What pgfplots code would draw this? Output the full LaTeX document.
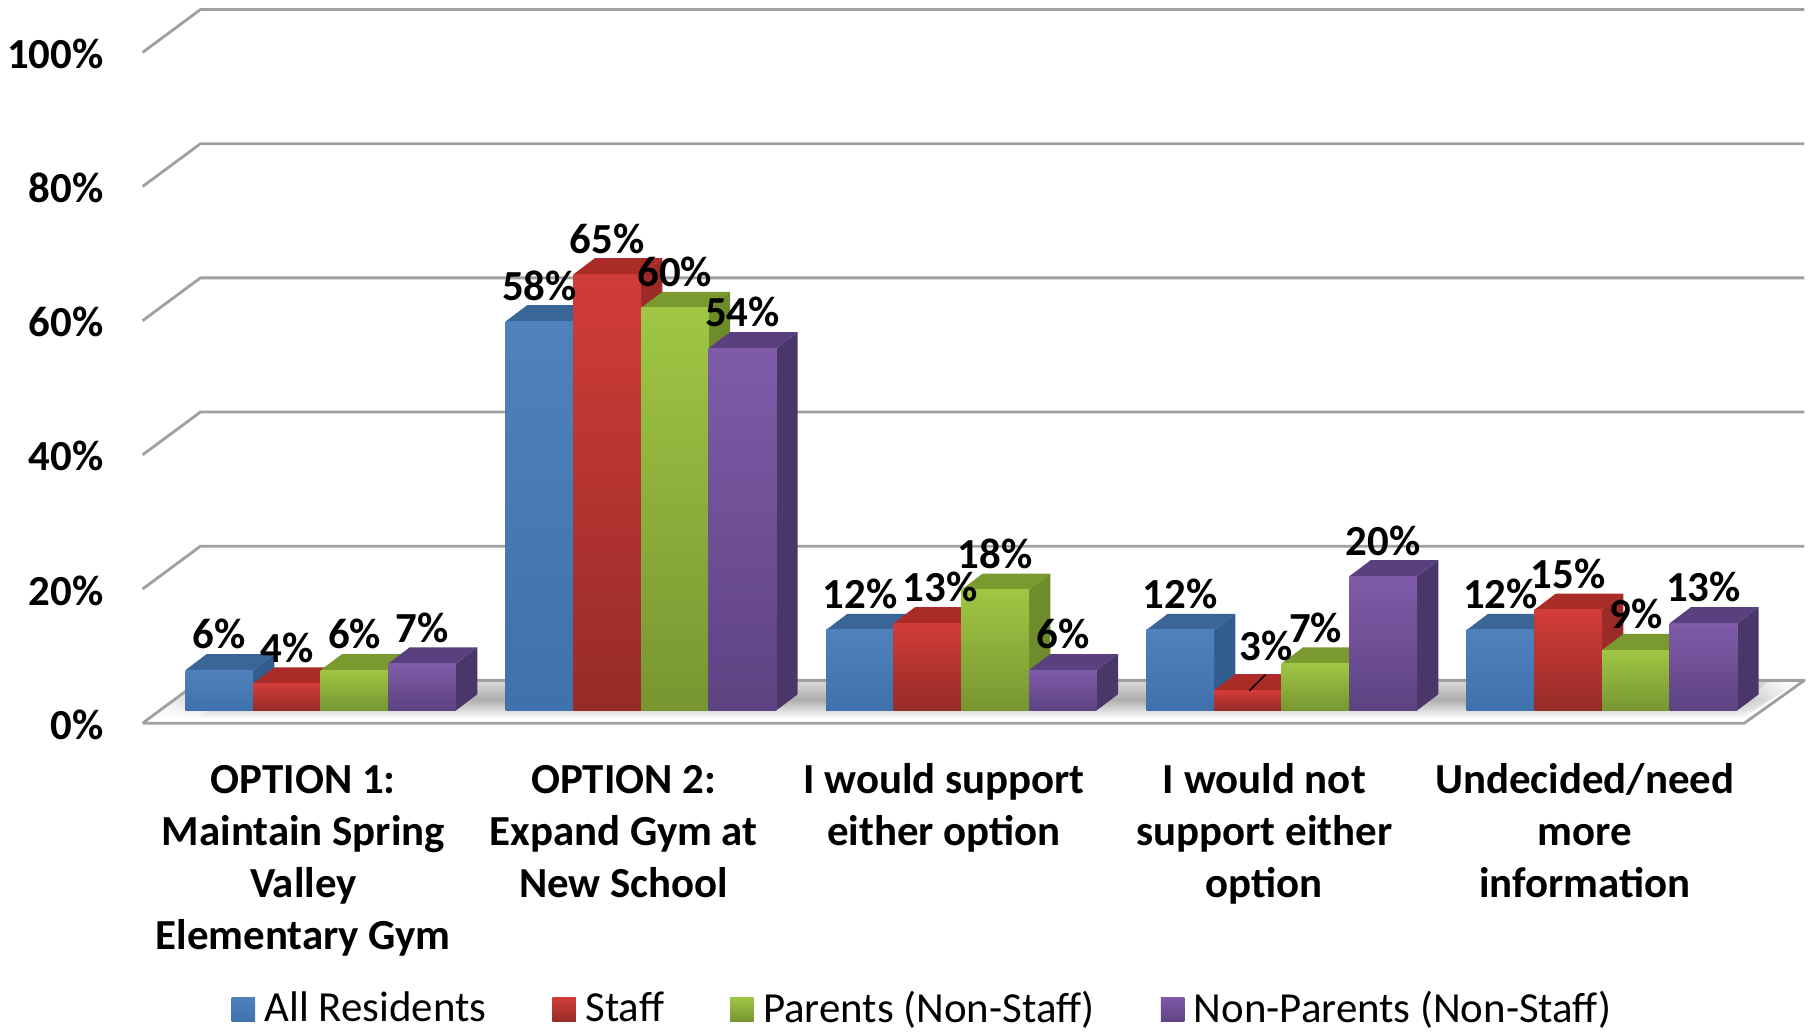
\documentclass[border=0pt]{standalone}
\usepackage{fontspec}
\setmainfont{Carlito}
\usepackage{pgfplots}
\usepackage{pgfplotstable}
\usetikzlibrary{fadings}
\pgfplotsset{compat=1.18}

\definecolor{blueT}{HTML}{4F81BD}\definecolor{blueB}{HTML}{3F72AC}
\definecolor{blueS}{HTML}{325D8E}\definecolor{blueL}{HTML}{3A6597}
\definecolor{redT}{HTML}{D13C39}\definecolor{redB}{HTML}{962B28}
\definecolor{redS}{HTML}{9C2A27}\definecolor{redL}{HTML}{AA2B28}
\definecolor{greenT}{HTML}{9FC644}\definecolor{greenB}{HTML}{779632}
\definecolor{greenS}{HTML}{6F8C2C}\definecolor{greenL}{HTML}{7A9A30}
\definecolor{purpleT}{HTML}{7F5BA8}\definecolor{purpleB}{HTML}{5E4382}
\definecolor{purpleS}{HTML}{4A3668}\definecolor{purpleL}{HTML}{5B4080}
\definecolor{wall}{HTML}{A0A0A0}

% x is the middle of the bar, dx and dy move the label
\pgfplotstableread{
x v dx dy
189.25 6 0 0
466.25 58 0 0
743.25 12 0 0
1020.25 12 0 0
1297.25 12 0 0
}\allresidents
\pgfplotstableread{
x v dx dy
247.75 4 0 0
524.75 65 0 0
801.75 13 11 0
1078.75 3 16 7
1355.75 15 0 0
}\staff
\pgfplotstableread{
x v dx dy
306.25 6 0 0
583.25 60 0 0
860.25 18 0 0
1137.25 7 0 0
1414.25 9 0 0
}\parents
\pgfplotstableread{
x v dx dy
364.75 7 0 0
641.75 54 0 0
918.75 6 0 0
1195.75 20 0 0
1472.75 13 0 0
}\nonparents

% one series: side, top and shaded front of each bar, one bar at a time
\newcommand{\barseries}[5]{%
  \pgfplotsforeachungrouped \barindex in {0,...,4}{%
    \pgfplotstablegetelem{\barindex}{x}\of{#1}\edef\bx{\pgfplotsretval}%
    \pgfplotstablegetelem{\barindex}{v}\of{#1}\edef\bv{\pgfplotsretval}%
    \pgfmathsetmacro\xl{\bx-29.25}%
    \pgfmathsetmacro\xr{\bx+29.25}%
    \pgfmathsetmacro\xbl{\xl+18.5}%
    \pgfmathsetmacro\xbr{\xr+18.5}%
    \pgfmathsetmacro\yb{\bv+2.41}%
    \edef\temp{\noexpand\addplot[forget plot,draw=none,fill=#2] coordinates
      {(\xr,0) (\xbr,2.41) (\xbr,\yb) (\xr,\bv)};
      \noexpand\addplot[forget plot,draw=none,fill=#3] coordinates
      {(\xl,\bv) (\xr,\bv) (\xbr,\yb) (\xbl,\yb)};
      \noexpand\addplot[forget plot,ybar,bar width=58.5,bar shift=0pt,draw=none,
        top color=#4,bottom color=#5] coordinates {(\bx,\bv)};}\temp
  }%
}
\newcommand{\barlabels}[1]{%
  \addplot[forget plot,only marks,mark=none,
    visualization depends on={\thisrow{dx} \as \labeldx},
    visualization depends on={\thisrow{dy} \as \labeldy},
    nodes near coords={\pgfmathprintnumber[assume math mode=true]{\pgfplotspointmeta}\%},
    every node near coord/.style={anchor=center,inner sep=0pt,text=black,
      font=\bfseries\fontsize{12.2}{14}\selectfont,
      xshift=\labeldx*0.1157mm,yshift=(31+\labeldy)*0.1157mm},
    point meta=explicit] table[x=x,y=v,meta=v] {#1};
}
\newcommand{\legendsquare}[3]{%
  \addlegendimage{draw=none,legend image code/.code={%
    \path[draw=none,top color=#1,bottom color=#2] (0cm,-0.12cm) rectangle (0.235cm,0.12cm);
    \path (0.26cm,0cm);}}
  \addlegendentry{#3}
}

\begin{document}
\begin{tikzpicture}
\begin{axis}[
    scale only axis,
    width=18.14cm,
    height=10.32cm,
    xmin=0, xmax=1568,
    ymin=-47.93, ymax=105.86,
    clip=false,
    axis background/.style={fill=white},
    axis line style={draw=none},
    major tick length=0pt,
    ytick={-1.9,18.1,38.1,58.1,78.1,98.1},
    yticklabels={0\%,20\%,40\%,60\%,80\%,100\%},
    yticklabel style={anchor=east,inner sep=0pt,xshift=1.04cm,yshift=-0.015cm,
      font=\bfseries\fontsize{12.2}{14}\selectfont},
    xtick={262,539,816,1093,1370},
    xticklabels={{\strut OPTION 1:\\Maintain Spring\\Valley\\Elementary Gym},
      {\strut OPTION 2:\\Expand Gym at\\New School},
      {\strut I would support\\either option},
      {\strut I would not\\support either\\option},
      {\strut Undecided/need\\more\\information}},
    xticklabel style={anchor=north,align=center,inner sep=0pt,yshift=2.757cm,
      font=\bfseries\fontsize{12.2}{14.8}\selectfont},
    legend columns=4,
    legend cell align=left,
    legend style={at={(0.510,0.022)},anchor=center,draw=none,fill=none,inner sep=0pt,overlay,
      font=\fontsize{12.2}{14}\selectfont,
      /tikz/every even column/.append style={column sep=0.59cm}},
]
  \legendsquare{blueT}{blueB}{All Residents}
  \legendsquare{redT}{redB}{Staff}
  \legendsquare{greenT}{greenB}{Parents (Non-Staff)}
  \legendsquare{purpleT}{purpleB}{Non-Parents (Non-Staff)}

  % floor and back wall
  \addplot[forget plot,draw=none,top color=black!14,bottom color=white,middle color=black!32]
    coordinates {(127,-1.2) (173,4.48) (1556,4.48) (1506,-1.2)};
  % shadow dies out at both ends of the floor
  \addplot[forget plot,draw=none,fill=white,path fading=east]
    coordinates {(127,-1.2) (173,4.48) (215,4.48) (170,-1.2)};
  \addplot[forget plot,draw=none,fill=white,path fading=west]
    coordinates {(1490,-1.2) (1530,4.48) (1556,4.48) (1506,-1.2)};
  \addplot[forget plot,wall,line width=0.8pt,line join=round]
    coordinates {(123,-1.9) (173,4.48) (1560,4.48) (1508,-1.9) (123,-1.9)};
  \addplot[forget plot,wall,line width=0.8pt] coordinates {(123,18.1) (173,24.48) (1560,24.48)};
  \addplot[forget plot,wall,line width=0.8pt] coordinates {(123,38.1) (173,44.48) (1560,44.48)};
  \addplot[forget plot,wall,line width=0.8pt] coordinates {(123,58.1) (173,64.48) (1560,64.48)};
  \addplot[forget plot,wall,line width=0.8pt] coordinates {(123,78.1) (173,84.48) (1560,84.48)};
  \addplot[forget plot,wall,line width=0.8pt] coordinates {(123,98.1) (173,104.48) (1560,104.48)};

  \barseries{\allresidents}{blueS}{blueL}{blueT}{blueB}
  \barseries{\staff}{redS}{redL}{redT}{redB}
  \barseries{\parents}{greenS}{greenL}{greenT}{greenB}
  \barseries{\nonparents}{purpleS}{purpleL}{purpleT}{purpleB}

  % leader of the 3% label
  \addplot[forget plot,black,line width=0.4pt] coordinates {(1080,2.93) (1094,5.34)};

  \barlabels{\allresidents}
  \barlabels{\staff}
  \barlabels{\parents}
  \barlabels{\nonparents}
\end{axis}
\end{tikzpicture}
\end{document}
